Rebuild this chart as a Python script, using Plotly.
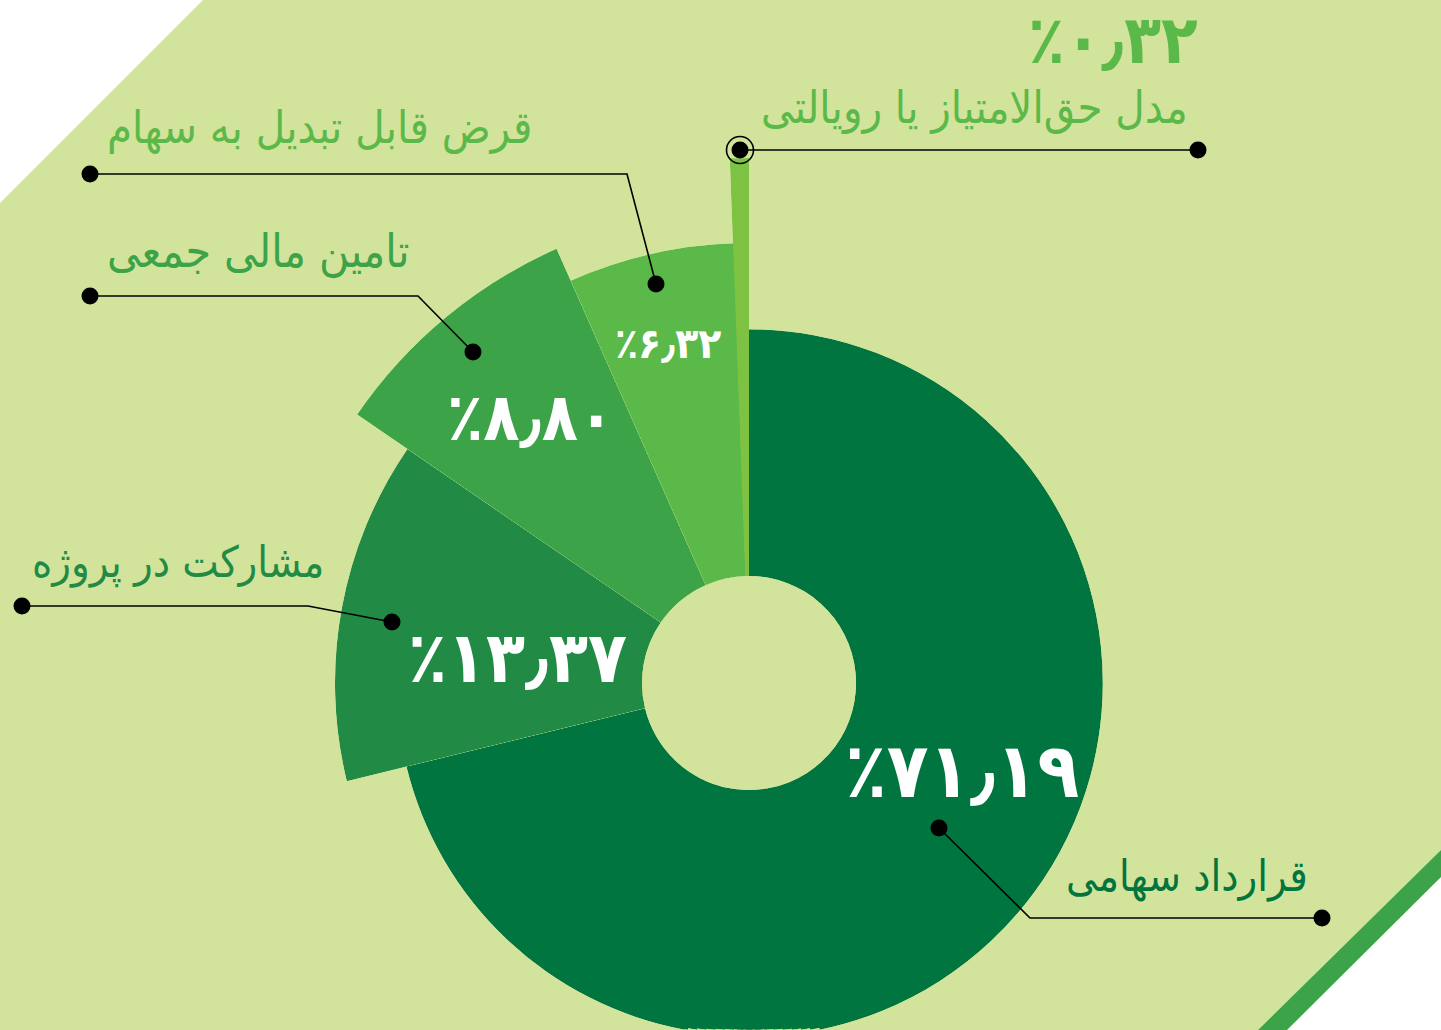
import math
import plotly.graph_objects as go

# ---------------- data ----------------
categories = [
    "قرارداد سهامی",
    "مشارکت در پروژه",
    "تامین مالی جمعی",
    "قرض قابل تبدیل به سهام",
    "مدل حق\u200cالامتیاز یا رویالتی",
]
shares = [71.19, 13.37, 8.80, 6.32, 0.32]

# ---------------- styling ----------------
W, H = 1441, 1030
slice_colors = ["#00753F", "#218B46", "#3CA349", "#5BB94A", "#7DC242"]
label_colors = ["#00753F", "#218B46", "#3CA349", "#5BB94A", "#5BB94A"]
outer_radius_px = [354, 414, 475, 440, 525]   # design radius of each petal
hole_px = 107
center_px = (749, 683)
min_width_deg = 2.1
FONT = "DejaVu Sans Condensed, DejaVu Sans"

FA_DIGITS = str.maketrans("0123456789.", "۰۱۲۳۴۵۶۷۸۹٫")


def fa_pct(v):
    return "٪" + f"{v:.2f}".translate(FA_DIGITS)


def P(x, y):
    return x / W, 1 - y / H


def sector_bbox(s0, s1):
    """same as plotly's computeSectorBBox (unit circle, center included)"""
    arc = s1 - s0
    a0 = s0 % 360
    a1 = a0 + arc
    ax0, ay0 = math.cos(math.radians(a0)), math.sin(math.radians(a0))
    ax1, ay1 = math.cos(math.radians(a1)), math.sin(math.radians(a1))
    if (a0 <= 90 <= a1) or (a0 > 90 and a1 >= 450):
        y1 = 1
    elif ay0 <= 0 and ay1 <= 0:
        y1 = 0
    else:
        y1 = max(ay0, ay1)
    if (a0 <= 180 <= a1) or (a0 > 180 and a1 >= 540):
        x0 = -1
    elif ax0 >= 0 and ax1 >= 0:
        x0 = 0
    else:
        x0 = min(ax0, ax1)
    if (a0 <= 270 <= a1) or (a0 > 270 and a1 >= 630):
        y0 = -1
    elif ay0 >= 0 and ay1 >= 0:
        y0 = 0
    else:
        y0 = min(ay0, ay1)
    if a1 >= 360:
        x1 = 1
    elif ax0 <= 0 and ax1 <= 0:
        x1 = 0
    else:
        x1 = max(ax0, ax1)
    return x0, y0, x1, y1


# angular extent of each share, clockwise from 12 o'clock
spans = []
start = 0.0
for s in shares:
    w = s * 3.6
    end = start + w
    spans.append((end - max(w, min_width_deg), end))
    start = end

cx, cy = center_px
bottom_space = H - cy

# every petal gets its own polar sector(s) so it is not clipped by the page;
# a petal that runs past the page bottom is split in narrow sectors there
pieces = []  # (petal index, start, end)
for i, ((s, e), R) in enumerate(zip(spans, outer_radius_px)):
    if R > bottom_space and s < 180 < e:
        d = math.degrees(math.acos(bottom_space / R)) + 0.1
        cuts = [s]
        a = 180 - d
        while a < 180 + d:
            cuts.append(a)
            a += 1.5
        cuts += [180 + d, e]
        cuts = sorted(set(round(c, 4) for c in cuts))
        for k in range(len(cuts) - 1):
            pieces.append((i, cuts[k] - (1.0 if k else 0), cuts[k + 1]))
    else:
        pieces.append((i, s, e))

fig = go.Figure()
layout_polars = {}
for k, (i, s, e) in enumerate(pieces):
    name = "polar" if k == 0 else f"polar{k + 1}"
    a0, a1 = 90 - e, 90 - s
    bx0, by0, bx1, by1 = sector_bbox(a0, a1)
    R = outer_radius_px[i]
    if by0 < 0:
        R = min(R, bottom_space / -by0 - 0.3)
    left, right = cx + R * bx0, cx + R * bx1
    top, bottom = cy - R * by1, cy - R * by0
    dom_x = [max(0, left / W), min(1, right / W)]
    dom_y = [max(0, (H - bottom) / H), min(1, (H - top) / H)]
    fig.add_trace(go.Barpolar(
        r=[R - hole_px], theta=[(s + e) / 2], width=[e - s],
        marker=dict(color=slice_colors[i], line=dict(width=0)),
        text=[f"{categories[i]}: {shares[i]}%"], hoverinfo="text",
        showlegend=False, subplot=name,
    ))
    layout_polars[name] = dict(
        domain=dict(x=dom_x, y=dom_y),
        sector=[a0, a1],
        hole=hole_px / R,
        bgcolor="rgba(0,0,0,0)",
        radialaxis=dict(range=[0, R - hole_px], visible=False, showgrid=False,
                        showline=False, showticklabels=False),
        angularaxis=dict(rotation=90, direction="clockwise", visible=False,
                         showgrid=False, showline=False, showticklabels=False),
    )

shapes = []
# background panel with cut corners
bg_pts = [(203, 0), (W, 0), (W, 850), (1258, H), (0, H), (0, 203)]
path = "M " + " L ".join(f"{P(x, y)[0]} {P(x, y)[1]}" for x, y in bg_pts) + " Z"
shapes.append(dict(type="path", path=path, xref="paper", yref="paper",
                   fillcolor="#D2E39C", line=dict(width=0), layer="below"))
stripe = [(W, 850), (W, 877), (1287, H), (1258, H)]
path = "M " + " L ".join(f"{P(x, y)[0]} {P(x, y)[1]}" for x, y in stripe) + " Z"
shapes.append(dict(type="path", path=path, xref="paper", yref="paper",
                   fillcolor="#3CA349", line=dict(width=0), layer="below"))

# leader lines
leaders = [
    [(939, 828), (1030, 918), (1322, 918)],
    [(392, 622), (308, 606), (22, 606)],
    [(473, 352), (418, 296), (90, 296)],
    [(656, 284), (627, 174), (90, 174)],
    [(740, 150), (1198, 150)],
]
for pts in leaders:
    path = "M " + " L ".join(f"{P(x, y)[0]} {P(x, y)[1]}" for x, y in pts)
    shapes.append(dict(type="path", path=path, xref="paper", yref="paper",
                       line=dict(color="black", width=1.6)))


def circle(x, y, r, fill, lw=0):
    x0, y0 = P(x - r, y + r)
    x1, y1 = P(x + r, y - r)
    return dict(type="circle", xref="paper", yref="paper", x0=x0, y0=y0, x1=x1, y1=y1,
                fillcolor=fill, line=dict(color="black", width=lw))


shapes.append(circle(740, 150, 13.5, "rgba(0,0,0,0)", 1.6))
for pts in leaders:
    for (x, y) in (pts[0], pts[-1]):
        shapes.append(circle(x, y, 8.5, "black"))

annotations = []
# category labels (anchor x, y center, xanchor, size)
label_pos = [
    (1310, 876, "right", 43),
    (30, 562, "left", 43),
    (105, 252, "left", 46),
    (105, 128, "left", 45),
    (1190, 108, "right", 45),
]
for cat, col, (x, y, xa, fs) in zip(categories, label_colors, label_pos):
    px, py = P(x, y)
    annotations.append(dict(text=cat, x=px, y=py, xref="paper", yref="paper",
                            xanchor=xa, yanchor="middle", showarrow=False,
                            font=dict(family=FONT, size=fs, color=col)))

# percentage labels
pct_pos = [
    (962, 770, 76, "white"),
    (517, 657, 71, "white"),
    (530, 418, 66, "white"),
    (668, 343, 42, "white"),
    (1113, 40, 67, "#5BB94A"),
]
for v, (x, y, fs, col) in zip(shares, pct_pos):
    px, py = P(x, y)
    annotations.append(dict(text="<b>" + fa_pct(v) + "</b>", x=px, y=py,
                            xref="paper", yref="paper", xanchor="center", yanchor="middle",
                            showarrow=False,
                            font=dict(family=FONT, size=fs, color=col)))

fig.update_layout(
    width=W, height=H,
    margin=dict(l=0, r=0, t=0, b=0),
    paper_bgcolor="white",
    plot_bgcolor="rgba(0,0,0,0)",
    showlegend=False,
    shapes=shapes,
    annotations=annotations,
    **layout_polars,
)

fig.write_html(
    "out.html",
    config={"displayModeBar": False},
    post_script="document.body.style.margin='0';document.body.style.overflow='hidden';",
)
